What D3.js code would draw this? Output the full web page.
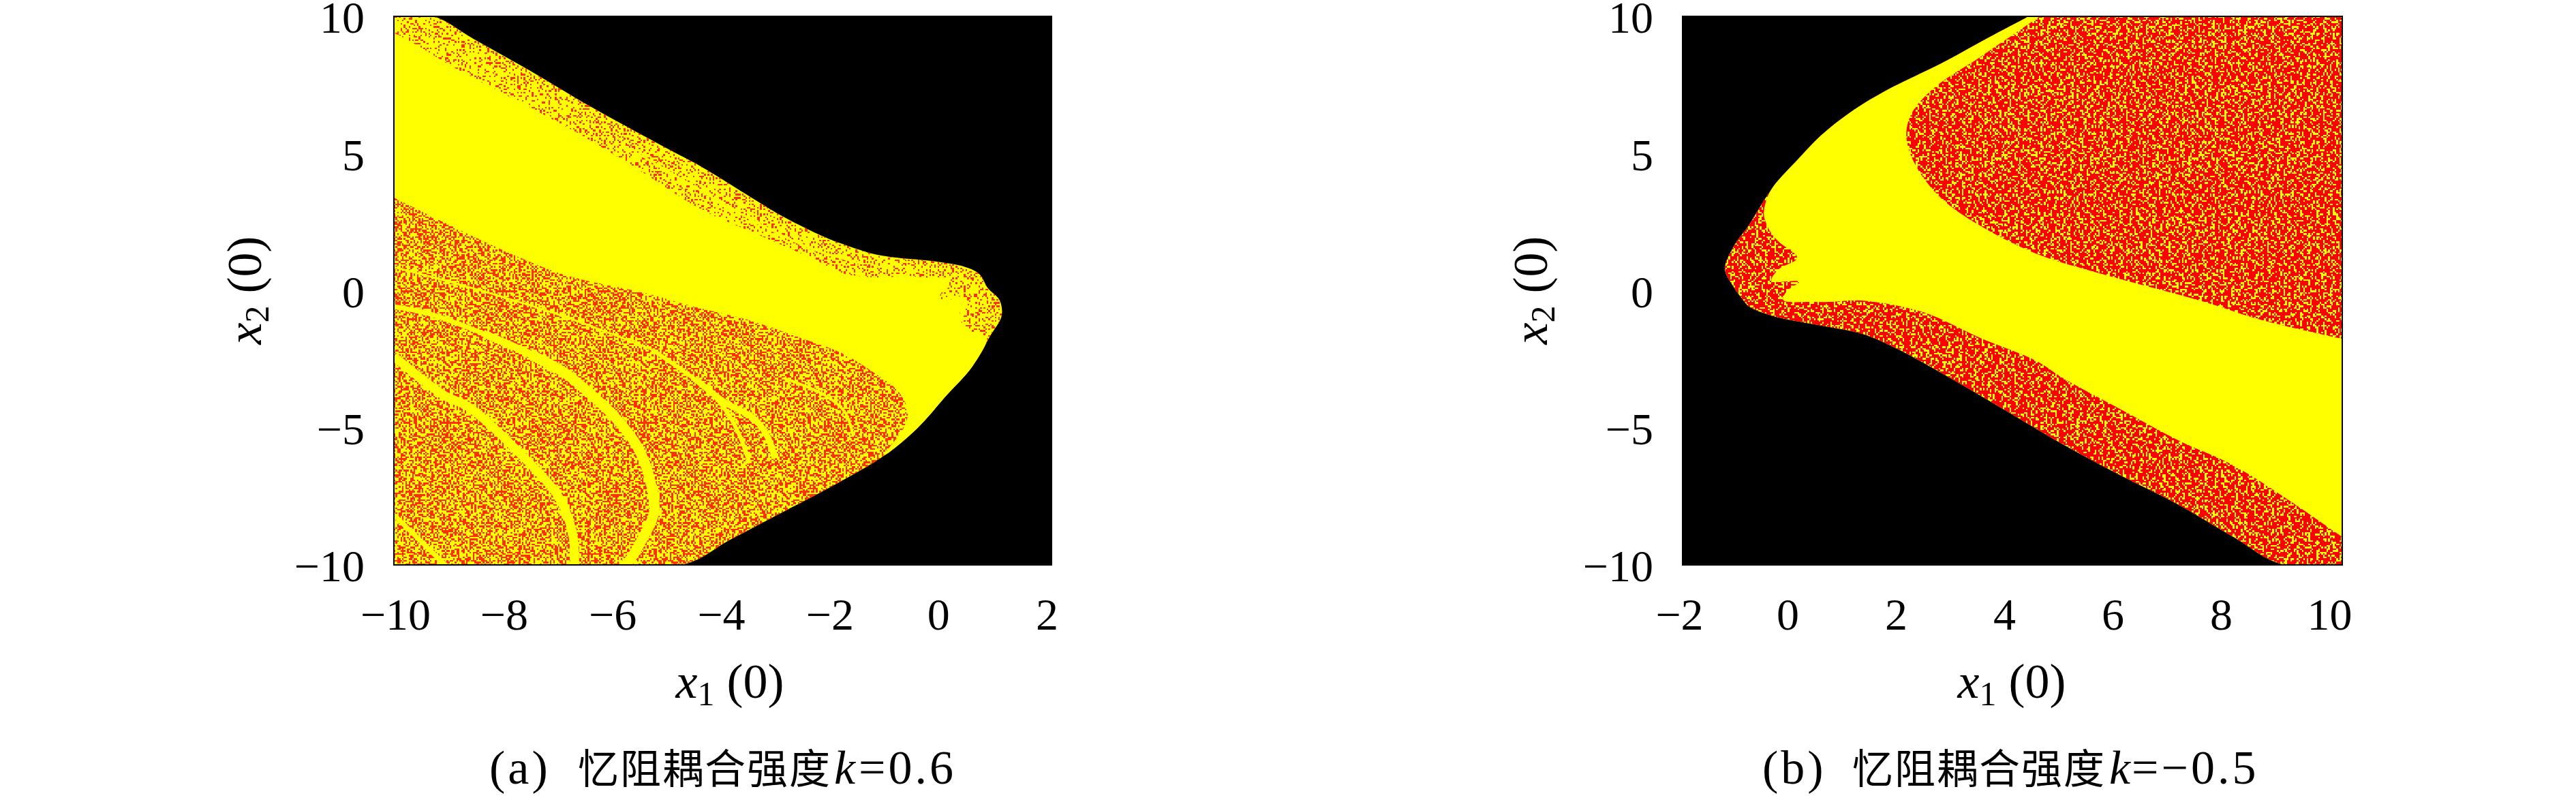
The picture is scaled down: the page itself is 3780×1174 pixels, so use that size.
<!DOCTYPE html>
<html><head><meta charset="utf-8">
<script src="https://cdn.jsdelivr.net/npm/d3@7"></script>
<style>
html,body{margin:0;padding:0;background:#fff}
svg{display:block}
text{font-family:"Liberation Serif","Noto Sans CJK SC",serif;fill:#000}
</style></head><body>
<svg id="c" width="3780" height="1174"></svg>
<script>
// ---- tick labels ----
const ticksAX=[-10,-8,-6,-4,-2,0,2];
const ticksBX=[-2,0,2,4,6,8,10];
const ticksY=[-10,-5,0,5,10];
const captionA=["(a)","忆阻耦合强度","k","=0.6"];
const captionB=["(b)","忆阻耦合强度","k","=−0.5"];

// ---- panel (a) regions, [x1(0), x2(0)] ----
const outerA=[[-10,10],[-9.28,10],[-8.55,9.18],[-7.51,8.01],[-6.68,7.02],[-5.86,6.10],[-5.03,5.20],[-4.40,4.53],[-3.4,3.3],[-2.9,2.7],[-2.27,2.07],[-1.86,1.73],[-1.23,1.33],[-0.81,1.20],[-0.19,1.08],[0.43,0.86],[0.68,0.61],[0.84,0.09],[1.05,-0.34],[1.09,-0.91],[0.88,-1.65],[0.56,-2.75],[0.06,-3.87],[-0.44,-5.0],[-1.02,-5.97],[-1.86,-6.97],[-2.39,-7.54],[-2.91,-8.08],[-3.88,-9.1],[-4.75,-10],[-10,-10]];
const wedgeA=[[-11,10.1],[-10,9.4],[-9.59,8.96],[-8.97,8.21],[-8.06,7.25],[-6.68,5.78],[-5.49,4.35],[-4.40,2.97],[-3.4,2.08],[-2.27,1.08],[-1.86,0.66],[-1.23,0.48],[-0.61,0.53],[-0.19,0.46],[0.10,0.46],[0.13,0.16],[-0.03,-0.14],[0.01,-0.41],[0.38,-0.21],[0.47,-0.53],[0.31,-0.88],[0.43,-1.33],[0.63,-1.58],[0.82,-1.70],[0.56,-2.75],[0.06,-3.87],[-0.44,-5.0],[-1.02,-5.97],[-1.05,-5.98],[-0.69,-4.98],[-0.62,-4.39],[-0.81,-3.64],[-1.23,-3.0],[-1.86,-2.25],[-2.68,-1.65],[-3.51,-1.08],[-4.54,-0.58],[-5.41,-0.09],[-6.89,0.58],[-7.92,1.40],[-9.17,2.57],[-10,3.39],[-11,4.3]];
const lowerA=[[-11,4.3],[-10,3.39],[-9.17,2.57],[-7.92,1.40],[-6.89,0.58],[-5.41,-0.09],[-4.54,-0.58],[-3.51,-1.08],[-2.68,-1.65],[-1.86,-2.25],[-1.23,-3.0],[-0.81,-3.64],[-0.62,-4.39],[-0.69,-4.98],[-1.05,-5.98],[-1.86,-6.97],[-2.39,-7.54],[-2.91,-8.08],[-3.88,-9.1],[-4.75,-10],[-11,-10]];
// yellow bands inside the speckled part of (a); the name gives the band's rank
const bandA1=[[-10,-2.40],[-9.09,-3.81],[-8.64,-4.24],[-7.61,-6.12],[-6.99,-7.54],[-6.74,-8.86],[-6.70,-10.1]];
const bandA2thin=[[-10,-0.58],[-9.38,-0.83],[-8.35,-1.58],[-7.51,-2.32]];
const bandA2mid=[[-8.35,-1.58],[-7.51,-2.32],[-6.89,-2.99]];
const bandA2thick=[[-7.51,-2.32],[-6.89,-2.99],[-6.39,-3.81],[-5.96,-4.63],[-5.56,-5.68],[-5.34,-6.80],[-5.25,-8.04],[-5.46,-9.03],[-5.75,-9.95],[-5.85,-10.1]];
const bandA3=[[-9.98,-8.21],[-9.14,-9.85],[-9.0,-10.1]];
const bandA4left=[[-10,0.86],[-8.48,0.04],[-6.87,-0.96],[-5.29,-2.15]];
const bandA4=[[-5.29,-2.15],[-4.75,-2.89],[-4.25,-3.64],[-3.88,-4.56],[-3.67,-5.38],[-3.51,-6.30]];
const bandA5=[[-4.50,-3.22],[-3.97,-4.06],[-3.42,-4.68],[-3.17,-5.38],[-3.05,-6.12]];
const bandA6=[[-2.89,-3.19],[-2.14,-3.81],[-1.77,-4.43],[-1.62,-5.30]];
const bandA7=[[-5.5,4.95],[-4.4,3.65],[-3.4,2.5],[-2.4,1.55],[-1.5,1.0]];

// ---- panel (b) regions ----
const outerB=[[4.3,10],[3.6,9.26],[2.75,8.33],[1.66,7.25],[1.05,6.50],[0.53,5.68],[0.12,4.83],[-0.40,3.64],[-0.79,2.40],[-1.08,1.58],[-1.23,0.78],[-1.08,0.16],[-0.93,-0.26],[-0.79,-0.58],[-0.38,-0.91],[0.45,-1.25],[1.27,-1.58],[1.87,-2.09],[2.89,-3.21],[3.92,-4.42],[4.94,-5.63],[5.97,-6.74],[6.99,-7.77],[8.02,-8.98],[8.94,-10],[11,-10],[11,10]];
const wedgeB=[[4.3,10],[3.6,9.26],[2.75,8.33],[1.66,7.25],[1.05,6.50],[0.53,5.68],[0.12,4.83],[-0.40,3.64],[-0.52,2.89],[-0.50,2.57],[-0.38,2.07],[-0.17,1.65],[0.03,1.40],[0.08,1.16],[-0.25,0.78],[-0.38,0.36],[0.12,0.33],[-0.10,-0.01],[-0.17,-0.34],[0.37,-0.41],[0.70,-0.41],[1.25,-0.36],[2.38,-0.79],[3.41,-1.72],[4.43,-2.56],[4.94,-3.21],[5.97,-4.33],[7.0,-5.44],[8.02,-6.37],[9.05,-7.67],[10,-8.98],[11,-10.3],[11,-2.2],[10,-1.76],[8.53,-1.07],[7.51,-0.42],[6.48,0.14],[5.46,0.70],[4.43,1.35],[3.41,2.37],[2.69,3.40],[2.23,4.60],[2.07,5.63],[2.17,6.47],[2.58,7.40],[3.41,8.51],[4.5,10]];

// ---- speckle texture: a hand-drawn tile, '#' is a red cell ----
const speckle=[
"#..#.##...#.#..##.#...##.#....#.##..#.#.#...##.#..#...#.##..",
".#...#..##...#.#...##.#...###.#...#.#...##.#....##.#.#....#.",
"..##.#.#..#.##.....#..#.#...#..##...##.#...#.##...#..##.#..#",
"#.#....##.#...#.##...##..##.#...#.#....#.##...#.#.##...#.#..",
".##.#.....##.#..#.#.#...#.....##.#.##.#...#.#..#....##.#..##",
"...#.##.#...#.##...#..#.##.#.#..#...#..##...##.#.#.#...#.#..",
"#.#...#.###....#.#..##...#.#...##.#.#.#..#.#....##..#.#...#.",
".#.##.....#.##.#...#..#.#..###....#...##.#..#.#...##...##.#.",
"#...#.#.#..#...##.##.#....#...#.#.##.#...#.##..##.#..#.#..#.",
"..#.##.#..##.#....#...##.#.##.#..#...#.##....#...#.##..#.##.",
".##...#.#....#.##..#.#...#...#.##..#.#...#.##..#.#...#.#...#",
"#..#.#...##.#...#.##..#.##.#....#.##...#.#..#.#...##.#...##.",
".#.#..##...#.#.#...#.#...#..##.#...#.#.##...#..##...#..#.#..",
"..#..#.#.##...#..##...#.#.#.#...###....#.#.#.##..#.#.##...#.",
"#.##...#...#.##.#..#.#.##....#.#...#.##..#...#.#...#...#.#.#",
".#..#.##.#..#...#.#.#...#.##...#.##.#..#.##.#...##.#.#...#..",
"...##...#.#.##.#...##.#...#.#.#..#...#.#...#.#.#...#.##.#..#",
"#.#..#.#...#...#.##...#.##..#..##.#.#...##.#..#.#.#...#...#.",
".##.#...##.#.#..#..#.#...#.#.#.....#.##..#...##...#.#..##.#.",
"#...#.#...#..##.#.#...##.#...#.##.#....#.#.#..#.##.#.#...#..",
"..#.#.##.#.#...#...##.#..##.#...#..##.#.#...#...#...##.#.#.#",
".#..#...#..##.#.##...#.#....##.#.#...#..##.#.##.#.#.....#..#",
"#.##.#.#.#....#...#.#..#.##...#...#.#.#...#.#...#.##.#.##...",
"..#...#.##.#.##.#..#.#....#.#.#.##..#..##...#.#....#...#.#.#",
".#.##.#...#...#.#.##...##.#..#....#.#.#.#.##...##.#.#.#...#.",
"#...#..#.#.##...#...#.#..#.##.#.#..#...#...#.#...#..#.##.#..",
"..##.#.#...#.#.##.#.#..#...#...##.#.##.#.#..#.##.#.#...#..##",
".#...#..##.#...#..#.##.#.#.#.#...#...#.#..##...#..#.##...#..",
"#.#.#.#...#.##.#.#...#...#..##.#..#.#...#...#.#.##....#.#.#.",
"..#...##.#...#...#.##.#.##.#...##...##.#.#.#...#..#.#.#...#.",
".##.#...#.#.#.##...#...#..#.#.#..#.#...#..##.##.#...#..##...",
"#...#.##..#...#.#.#.##.#.#...#.#...#.##.#.....#.#.##.#...#.#",
"..#.#...#..##.#..#..#...##.#.#..##.#..#.#.##.#...#...#.#.#..",
".#..##.#.#...#.##.#.#.#...#...#...#.##...#...#.##.#.#...##.#",
"#.#...#...##.#...#...##.#.#.##.#.#...#.#.#.#..#...##.#.#....",
"..##.#.#.#...#.#.#.#...#...#...#.#.##.#...##.#.#.#...#..#.##",
".#...#...#.##..#.##..#.#.##.#.#.....#..##.#...#..#.##.#.#...",
"#.#.##.#...#.#...#.#...#.#...##.#.#.#.#...#.#..##...#...#.#.",
"..#...#.##.#..##...#.##...#.#..#..##...#.#.#.#...#.#.##.#..#",
".#.#.#...#...#.#.#.#...##.#..#.#.#..#.#...##..#.##...#...#.#"
];

const CELL=2.41;
const plotY=[24,829];
const svg=d3.select("#c");

function cellOn(i,j,di,dj){
  const r=speckle[(j+dj)%speckle.length];
  const shift=17*Math.floor((j+dj)/speckle.length);
  return r[(i+di+shift)%r.length]==="#";
}
function specklePath(W,H,test){
  let d="";
  const nx=Math.ceil(W/CELL), ny=Math.ceil(H/CELL);
  for(let j=0;j<ny;j++){
    let i=0;
    while(i<nx){
      if(test(i,j)){
        let s=i; while(i<nx&&test(i,j)) i++;
        d+=`M${(s*CELL).toFixed(2)} ${(j*CELL).toFixed(2)}H${(i*CELL).toFixed(2)}V${((j+1)*CELL).toFixed(2)}H${(s*CELL).toFixed(2)}Z`;
      } else i++;
    }
  }
  return d;
}

function panel(id,left,right,domX,ticksX,labelOffsets,xTitleCx,yTitleCx,caption,capX,draw){
  const x=d3.scaleLinear().domain(domX).range([left,right]);
  const y=d3.scaleLinear().domain([-10,10]).range([plotY[1],plotY[0]]);
  const labelDx=d3.scaleLinear().domain(domX).range(labelOffsets);
  const g=svg.append("g").attr("id",id);
  const defs=g.append("defs");
  defs.append("clipPath").attr("id",id+"-plot").append("rect")
    .attr("x",left).attr("y",plotY[0]).attr("width",right-left).attr("height",plotY[1]-plotY[0]);
  const line=d3.line().x(d=>x(d[0])).y(d=>y(d[1])).curve(d3.curveCatmullRom.alpha(0.5));
  const closed=pts=>line(pts)+"Z";
  g.append("rect").attr("x",left).attr("y",plotY[0]).attr("width",right-left).attr("height",plotY[1]-plotY[0]).attr("fill","#000");
  const body=g.append("g").attr("clip-path",`url(#${id}-plot)`);
  const ctx={
    region(name,pts){defs.append("clipPath").attr("id",id+"-"+name).append("path").attr("d",closed(pts));return `url(#${id}-${name})`;},
    speck(test,clip,color){body.append("g").attr("clip-path",clip).append("path")
      .attr("transform",`translate(${left},${plotY[0]})`).attr("d",specklePath(right-left,plotY[1]-plotY[0],test))
      .attr("fill",color).attr("shape-rendering","crispEdges");},
    fill(pts,color){body.append("path").attr("d",closed(pts)).attr("fill",color);},
    band(pts,w){body.append("path").attr("d",line(pts)).attr("fill","none").attr("stroke","#ffff00").attr("stroke-width",w).attr("stroke-linejoin","round");}
  };
  draw(ctx);
  g.append("rect").attr("x",left).attr("y",plotY[0]).attr("width",right-left).attr("height",plotY[1]-plotY[0])
    .attr("fill","none").attr("stroke","#000").attr("stroke-width",2);

  const ax=g.append("g").attr("transform",`translate(0,${plotY[1]})`)
    .call(d3.axisBottom(x).tickValues(ticksX).tickSize(0).tickPadding(48));
  const ay=g.append("g").attr("transform",`translate(${left},0)`)
    .call(d3.axisLeft(y).tickValues(ticksY).tickSize(0).tickPadding(43));
  [ax,ay].forEach(a=>{a.select(".domain").remove();a.selectAll("text").style("font-family",'"Liberation Serif",serif').style("font-size","66px").attr("fill","#000");});
  ax.selectAll("text").attr("dx",d=>labelDx(d));
  ay.selectAll("text").attr("dy","0.36em");

  const xt=g.append("text").attr("x",xTitleCx).attr("y",1024).attr("text-anchor","middle").style("font-size","72px");
  xt.append("tspan").text("x").style("font-style","italic");
  xt.append("tspan").text("1").attr("dy",11).style("font-size","50px");
  xt.append("tspan").text("\u00A0(0)").attr("dy",-11);

  const yt=g.append("text").attr("transform",`translate(${yTitleCx+22},426) rotate(-90)`).attr("text-anchor","middle").style("font-size","72px");
  yt.append("tspan").text("x").style("font-style","italic");
  yt.append("tspan").text("2").attr("dy",11).style("font-size","50px");
  yt.append("tspan").text("\u00A0(0)").attr("dy",-11);

  const ct=g.append("text").attr("y",1150).style("font-size","70px").style("letter-spacing","4px");
  ct.append("tspan").attr("x",capX[0]).text(caption[0]);
  ct.append("tspan").attr("x",capX[1]).text(caption[1]).style("font-size","60px").style("letter-spacing","2px");
  ct.append("tspan").attr("x",capX[2]).text(caption[2]).style("font-style","italic");
  ct.append("tspan").attr("x",capX[3]).text(caption[3]);
}

panel("a",578,1543,[-10,2],ticksAX,[2,-7],1071,361,captionA,[718,848,1224,1260],c=>{
  c.fill(outerA,"#ffff00");
  c.speck((i,j)=>(cellOn(i,j,0,0)&&cellOn(i,j,7,13))||(cellOn(i>>1,j>>1,3,5)&&cellOn(i,j,11,2)&&cellOn(i,j,31,17)),c.region("outer",outerA),"#ff3000");
  c.speck((i,j)=>(cellOn(i>>1,j>>1,9,21)&&cellOn(i,j,5,29))||(cellOn(i,j,13,37)&&cellOn(i,j,41,7)),c.region("lower",lowerA),"#ff3000");
  c.fill(wedgeA,"#ffff00");
  c.band(bandA1,13);
  c.band(bandA2thin,7);
  c.band(bandA2mid,11);
  c.band(bandA2thick,15);
  c.band(bandA3,7);
  c.band(bandA4left,3);
  c.band(bandA4,6);
  c.band(bandA5,9);
  c.band(bandA6,4);
  c.band(bandA7,3);
});
panel("b",2469,3437,[-2,10],ticksBX,[-5,-19],2952,2248,captionB,[2586,2718,3095,3128],c=>{
  c.fill(outerB,"#ffff00");
  c.speck((i,j)=>cellOn(i>>1,j>>1,5,7)||cellOn(i,j,0,0)||(cellOn(i,j,23,11)&&cellOn(i,j,37,3)),c.region("outer",outerB),"#ff0000");
  c.fill(wedgeB,"#ffff00");
});
</script>
</body></html>
